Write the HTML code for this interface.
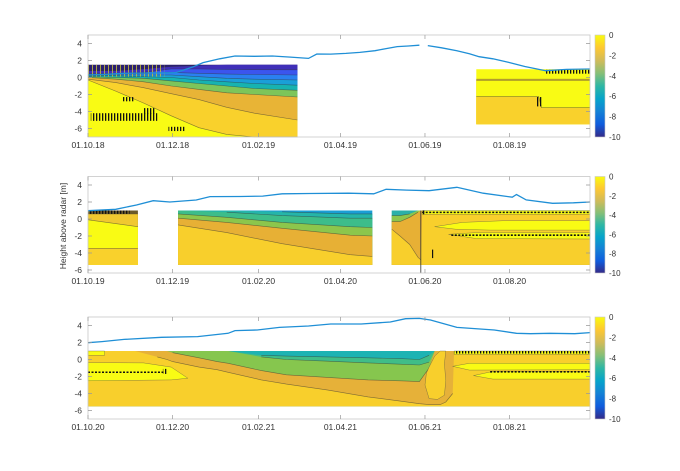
<!DOCTYPE html>
<html><head><meta charset="utf-8"><style>
html,body{margin:0;padding:0;background:#fff}
svg{display:block;font-family:"Liberation Sans",sans-serif}
</style></head><body>
<svg id="chart" width="680" height="471" viewBox="0 0 680 471" xmlns="http://www.w3.org/2000/svg">
<defs>
<pattern id="stripes" width="3" height="4" patternUnits="userSpaceOnUse"><rect x="0" y="0" width="1.3" height="4" fill="#111"/></pattern>
<pattern id="ystripes" width="4" height="4" patternUnits="userSpaceOnUse"><rect x="0" y="0" width="1" height="4" fill="#c9c23a" opacity="0.8"/></pattern>
<linearGradient id="parula" x1="0" y1="1" x2="0" y2="0">
<stop offset="0" stop-color="#352a87"/><stop offset="0.125" stop-color="#0f5cdd"/><stop offset="0.25" stop-color="#1481d6"/><stop offset="0.375" stop-color="#06a4ca"/><stop offset="0.5" stop-color="#2eb7a4"/><stop offset="0.625" stop-color="#87bf77"/><stop offset="0.75" stop-color="#d1bb59"/><stop offset="0.875" stop-color="#fec832"/><stop offset="1" stop-color="#f9fb0e"/>
</linearGradient>
</defs>
<text x="0" y="0" transform="translate(66,226) rotate(-90)" text-anchor="middle" font-size="8.5" fill="#333">Height above radar [m]</text>
</svg>
<script>
// ---------- data ----------
const dateTickDays = [0, 61, 123, 182, 243, 304];
const dateLabels1 = ["01.10.18","01.12.18","01.02.19","01.04.19","01.06.19","01.08.19"];
const dateLabels2 = ["01.10.19","01.12.19","01.02.20","01.04.20","01.06.20","01.08.20"];
const dateLabels3 = ["01.10.20","01.12.20","01.02.21","01.04.21","01.06.21","01.08.21"];
const heightTicks = [4, 2, 0, -2, -4, -6];
const colorbarTicks = [0, -2, -4, -6, -8, -10];

// snow surface height series (days since 01.10, height m)
const snow1Days = [0,10,26,40,63,75,83,95,106,120,133,146,159,165,175,186,196,207,215,223,231,239];
const snow1Vals = [0.29,0.35,0.49,0.52,0.57,1.2,1.75,2.2,2.53,2.5,2.53,2.4,2.25,2.76,2.75,2.84,2.95,3.15,3.4,3.63,3.7,3.8];
const snow1bDays = [245,255,266,275,282,292,303,315,330,345,362];
const snow1bVals = [3.75,3.5,3.15,2.8,2.45,2.2,1.8,1.3,0.8,0.95,1.0];
const snow2Days = [0,20,35,47,59,78,88,110,126,140,160,188,206,215,230,246,266,285,306,309,316,335,350,362];
const snow2Vals = [0.98,1.14,1.65,2.15,2.0,2.24,2.63,2.65,2.7,2.96,3.0,3.04,2.96,3.49,3.4,3.33,3.73,3.04,2.57,2.88,2.25,1.85,1.9,2.0];
const snow3Days = [0,10,26,53,79,101,106,122,138,159,175,197,218,229,239,247,266,293,309,319,333,351,362];
const snow3Vals = [1.98,2.1,2.37,2.61,2.69,3.08,3.4,3.47,3.78,3.94,4.18,4.18,4.41,4.8,4.84,4.65,3.78,3.47,3.08,3.04,3.08,3.04,3.16];

// contour bands: [color, top-boundary depths]
const p1aDays = [0,20,40,60,80,100,120,151];
const p1aBands = [
 ["#2a1f6e",[1.5,1.5,1.5,1.5,1.5,1.5,1.5,1.5]],
 ["#3f2fb8",[0.8,0.8,1.0,1.3,1.4,1.5,1.5,1.5]],
 ["#3b55ee",[0.5,0.5,0.6,1.0,1.0,0.95,0.92,0.9]],
 ["#2a80f0",[0.4,0.4,0.45,0.6,0.5,0.4,0.35,0.3]],
 ["#1a9fd8",[0.3,0.3,0.3,0.3,0.1,-0.1,-0.2,-0.3]],
 ["#17b3b0",[0.2,0.2,0.1,0.0,-0.3,-0.5,-0.7,-0.9]],
 ["#7dc55a",[0.1,0.0,-0.1,-0.4,-0.7,-1.0,-1.3,-1.5]],
 ["#e8b436",[0.0,-0.2,-0.5,-1.0,-1.4,-1.8,-2.0,-2.3]],
 ["#f9d12c",[-0.2,-0.6,-1.2,-1.9,-2.6,-3.5,-4.2,-5.0]],
 ["#f9fb14",[-0.3,-1.6,-3.0,-4.5,-5.9,-6.7,-7,-7]]
];
const p1bDays = [280,325,327,362];
const p1bBands = [
 ["#f9fb14",[0.96,0.96,0.96,0.96]],
 ["#e8c030",[-0.2,-0.2,-0.2,-0.2]],
 ["#f9fb14",[-0.35,-0.35,-0.35,-0.35]],
 ["#f9d12c",[-2.25,-2.25,-3.55,-3.55]]
];
const p2aDays = [0,36];
const p2aBands = [
 ["#6b5a2a",[1.0,1.0]],
 ["#f0c830",[0.6,0.6]],
 ["#f9fb14",[-0.1,-0.9]],
 ["#f9d12c",[-3.45,-3.45]]
];
const p2bDays = [65,100,140,189,205];
const p2bBands = [
 ["#1a9ed5",[1,1,1,1,1]],
 ["#25b5a9",[1.0,1.0,0.85,0.6,0.6]],
 ["#3dbd8a",[1.0,0.8,0.4,0.1,0.1]],
 ["#8cc64c",[0.6,0.2,-0.4,-0.9,-1.0]],
 ["#e7b035",[0.1,-0.4,-1.1,-1.9,-2.0]],
 ["#f8cf2c",[-0.7,-1.6,-2.9,-4.2,-4.4]]
];
const p2cDays = [219,225,232,238,240,241,362];
const p2cBands = [
 ["#2ab0a8",[1,1,1,1,1,1,1]],
 ["#8cc64c",[0.4,0.4,0.6,1,1,1,1]],
 ["#e7b035",[-0.3,-0.3,0.2,0.8,1,1,1]],
 ["#f8cf2c",[-1.2,-2.0,-3.0,-4.5,-4.8,1,1]]
];
const p3Days = [0,20,34,50,57,61,80,93,101,125,143,173,202,225,239,246,250,254,258,263,264,362];
const p3Bands = [
 ["#1db3b3",[1,1,1,1,1,1,1,1,1,1,1,1,1,1,1,1,1,1,1,1,1,1]],
 ["#40bd88",[1,1,1,1,1,1,1,1,1,0.5,0.4,0.3,0.2,0.1,0.0,0.5,1,1,1,1,1,1]],
 ["#86c64e",[1,1,1,1,1,1,1,1,1,0.3,0.0,-0.2,-0.4,-0.55,-0.65,-0.3,1,1,1,1,1,1]],
 ["#e6b139",[1,1,1,1,1,0.8,0.2,-0.25,-0.45,-1.3,-1.8,-2.1,-2.4,-2.5,-2.6,-1.0,1,1,1,1,1,1]],
 ["#f8cf2c",[1,1,1,0.3,0.0,-0.25,-0.9,-1.2,-1.5,-2.4,-2.9,-3.6,-4.4,-4.9,-5.2,-5.3,-5.3,-5.3,-5.0,-4.0,1,1]]
];
// yellow (near 0) tongues: [day, height] outlines
const yellowShapes2 = [
 [[241,1.0],[362,1.0],[362,0.55],[241,0.55]],
 [[250,-0.9],[270,-0.4],[300,-0.2],[362,-0.2],[362,-1.3],[290,-1.3],[265,-1.2]],
 [[260,-1.8],[280,-1.6],[362,-1.6],[362,-2.35],[280,-2.3]]
];
const yellowShapes3 = [
 [[0,1.0],[12,1.0],[12,0.5],[0,0.5]],
 [[0,-0.37],[40,-0.4],[60,-0.9],[72,-2.2],[60,-2.4],[0,-2.5]],
 [[264,1.0],[362,1.0],[362,0.6],[264,0.6]],
 [[263,-0.8],[275,-0.45],[362,-0.45],[362,-1.2],[275,-1.25]],
 [[278,-1.9],[292,-1.4],[362,-1.4],[362,-2.3],[292,-2.3]]
];
const goldShapes3 = [
 [[246,-0.9],[250,0.4],[254,1.0],[258,1.0],[257,-0.5],[258,-2.5],[257,-4.2],[252,-4.7],[246,-4.6],[243,-3.0],[244,-1.6]]
];
// radar artefact patches: [dayStart, dayEnd, top, bottom]
const artefacts1 = [[2,50,-4.2,-5.1],[25,33,-2.3,-2.8],[40,48,-3.6,-4.3],[58,70,-5.8,-6.3],[323,327,-2.3,-3.4],[330,362,0.9,0.45]];
const artefacts2 = [[0,30,1.0,0.6],[241,243,1.0,0.55],[247,249,-3.6,-4.6]];
const artefacts3 = [[264,362,1.0,0.7],[54,57,-1.1,-1.7]];
const dotted2 = [[241,362,0.78],[262,362,-1.9]];
const dotted3 = [[0,55,-1.5],[290,362,-1.45]];

// ---------- drawing ----------
const NS = "http://www.w3.org/2000/svg";
const svg = document.getElementById("chart");
const X0 = 88, X1 = 590, DAYS = 362;
const panels = [
 {top:35, bot:137, ymin:-7, labels:dateLabels1},
 {top:176.5, bot:273, ymin:-6.4, labels:dateLabels2},
 {top:317, bot:419, ymin:-7, labels:dateLabels3}
];
const PXU = 8.5;
function xs(d){ return X0 + d*(X1-X0)/DAYS; }
function ys(p,h){ return p.top + (5-h)*PXU; }
function mk(tag, attrs, parent){
  const e = document.createElementNS(NS, tag);
  for (const k in attrs) e.setAttribute(k, attrs[k]);
  (parent||svg).appendChild(e);
  return e;
}
function drawBlock(p, g, days, bands, top, bot){
  bands.forEach((b, bi) => {
    const line = b[1];
    let d = "";
    days.forEach((dy,i)=>{ d += (i?"L":"M") + xs(dy).toFixed(1) + "," + ys(p, Math.min(line[i], top)).toFixed(1); });
    d += "L" + xs(days[days.length-1]).toFixed(1) + "," + ys(p,bot).toFixed(1) + "L" + xs(days[0]).toFixed(1) + "," + ys(p,bot).toFixed(1) + "Z";
    const el = mk("path", {d:d, fill:b[0]}, g);
    
    
    if (bi > 0) {
      let s = "", pen = false;
      days.forEach((dy,i)=>{
        if (line[i] < top - 0.01) { s += (pen?"L":"M") + xs(dy).toFixed(1) + "," + ys(p,line[i]).toFixed(1); pen = true; }
        else pen = false;
      });
      if (s) {
        const c = mk("path", {d:s, fill:"none", stroke:"#333", "stroke-width":0.6, "stroke-opacity":0.6}, g);
        
        
      }
    }
  });
}
function drawShapes(p, g, shapes, color){
  shapes.forEach(sh=>{
    const pts = sh.map(q=>xs(q[0]).toFixed(1)+","+ys(p,q[1]).toFixed(1)).join(" ");
    const el = mk("polygon", {points:pts, fill:color, stroke:"#444", "stroke-width":0.5, "stroke-opacity":0.6}, g);
    
    
  });
}
function drawArtefacts(p, g, arr, fill){
  arr.forEach(a=>{
    const el = mk("rect", {x:xs(a[0]), y:ys(p,a[2]), width:xs(a[1])-xs(a[0]), height:ys(p,a[3])-ys(p,a[2]), fill:fill}, g);
    
    
  });
}
function drawDotted(p, g, arr){
  arr.forEach(a=>{
    const el = mk("line", {x1:xs(a[0]), x2:xs(a[1]), y1:ys(p,a[2]), y2:ys(p,a[2]), stroke:"#111", "stroke-width":1.6, "stroke-dasharray":"2 1.5"}, g);
    
    
  });
}
function drawSnow(p, g, days, vals){
  const d = days.map((dy,i)=>(i?"L":"M")+xs(dy).toFixed(1)+","+ys(p,vals[i]).toFixed(1)).join("");
  const el = mk("path", {d:d, fill:"none", stroke:"#1f8fd6", "stroke-width":1.3}, g);
  
  
}

panels.forEach((p, pi)=>{
  const g = mk("g", {});
  
  
  if (pi === 0) {
    drawBlock(p, g, p1aDays, p1aBands, 1.5, -7);
    drawArtefacts(p, g, [[0,55,1.5,0.1]], "url(#ystripes)");
    drawArtefacts(p, g, artefacts1, "url(#stripes)");
    drawBlock(p, g, p1bDays, p1bBands, 0.96, -5.5);
    drawArtefacts(p, g, [[323,327,-2.3,-3.4],[330,362,0.9,0.45]], "url(#stripes)");
    drawSnow(p, g, snow1Days, snow1Vals);
    drawSnow(p, g, snow1bDays, snow1bVals);
  } else if (pi === 1) {
    drawBlock(p, g, p2aDays, p2aBands, 1.0, -5.4);
    drawBlock(p, g, p2bDays, p2bBands, 1.0, -5.4);
    drawBlock(p, g, p2cDays, p2cBands, 1.0, -5.4);
    drawShapes(p, g, yellowShapes2, "#f9fb14");
    drawArtefacts(p, g, artefacts2, "url(#stripes)");
    drawDotted(p, g, dotted2);
    const v = mk("line", {x1:xs(240), x2:xs(240), y1:ys(p,1.0), y2:p.bot, stroke:"#333", "stroke-width":0.8}, g);
    
    
    drawSnow(p, g, snow2Days, snow2Vals);
  } else {
    drawBlock(p, g, p3Days, p3Bands, 1.0, -5.5);
    drawShapes(p, g, goldShapes3, "#f8cf2c");
    drawShapes(p, g, yellowShapes3, "#f9fb14");
    drawArtefacts(p, g, artefacts3, "url(#stripes)");
    drawDotted(p, g, dotted3);
    drawSnow(p, g, snow3Days, snow3Vals);
  }
  const box = mk("rect", {x:X0, y:p.top, width:X1-X0, height:p.bot-p.top, fill:"none", stroke:"#c8c8c8", "stroke-width":0.8}, g);
  
  
  dateTickDays.forEach((dy,i)=>{
    const tk = mk("path", {d:`M${xs(dy)},${p.bot}v-4M${xs(dy)},${p.top}v4`, stroke:"#999", "stroke-width":0.7}, g);
    
    
    const t = mk("text", {x:xs(dy), y:p.bot+11, "text-anchor":"middle", "font-size":8.5, fill:"#333"}, g);
    
    
    t.textContent = p.labels[i];
  });
  heightTicks.forEach(h=>{
    if (h < p.ymin) return;
    const y = ys(p,h);
    const tk = mk("path", {d:`M${X0},${y}h4M${X1},${y}h-4`, stroke:"#999", "stroke-width":0.7}, g);
    
    
    const t = mk("text", {x:X0-6, y:y+3, "text-anchor":"end", "font-size":8.5, fill:"#333"}, g);
    
    
    t.textContent = h;
  });
  const cb = mk("rect", {x:595, y:p.top, width:10, height:p.bot-p.top, fill:"url(#parula)", stroke:"#c8c8c8", "stroke-width":0.6}, g);
  
  
  colorbarTicks.forEach(v=>{
    const y = p.top + (0 - v)/10*(p.bot-p.top);
    const t = mk("text", {x:609, y:y+3, "font-size":8, fill:"#333"}, g);
    
    
    t.textContent = v;
  });
});
</script>
</body></html>
